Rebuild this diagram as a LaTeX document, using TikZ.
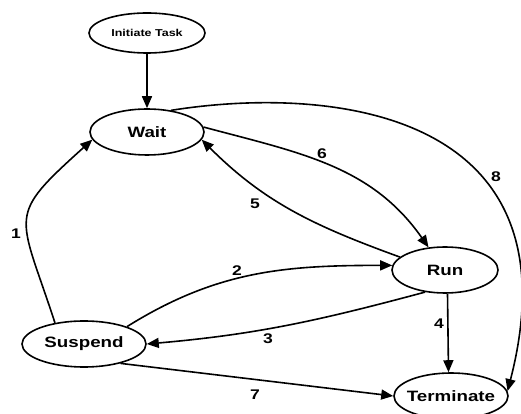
\documentclass[tikz,border=0pt]{standalone}
\usepackage{fontspec}
\setmainfont[FakeStretch=1.25]{Liberation Sans}
\usetikzlibrary{shapes.geometric,arrows.meta}
\begin{document}
\begin{tikzpicture}[x=1pt,y=1pt,line width=1.6pt,
	st/.style={draw,ellipse,inner xsep=-12pt,inner ysep=0pt,minimum height=46,font=\fontsize{15}{18}\selectfont\bfseries},
	arr/.style={-{Triangle[length=12pt,width=10pt]}}]
	\useasboundingbox (0,0) rectangle (521,414);
	\path
	(147,381) node[st,minimum width=116,minimum height=40,font=\fontsize{10}{12}\selectfont\bfseries] (Init) {Initiate Task}
	(147,282) node[st,minimum width=114] (Wait) {Wait}
	(84,70) node[st,minimum width=124] (Suspend) {Suspend}
	(445,144) node[st,minimum width=106] (Run) {Run}
	(451,18) node[st,minimum width=114] (Terminate) {Terminate}
	;
	\draw[arr] (Init) -- (Wait)
	;
	\draw[arr] (Suspend.144) to[out=108,in=222,looseness=1.6] (Wait.188)
	;
	\draw[arr] (Suspend.22) to[out=32,in=180] (Run.175)
	;
	\draw[arr] (Run.228) to[out=195,in=5] (Suspend.0)
	;
	\draw[arr] (Run.-84) -- (Terminate.96)
	;
	\draw[arr] (Run.164) to[out=160,in=-45] (Wait.-8)
	;
	\draw[arr] (Wait.5) to[out=-15,in=125] (Run.126)
	;
	\draw[arr] (Suspend.-28) -- (Terminate.180)
	;
	\draw[arr] (Wait.42) .. controls (330,329) and (580,304) .. (Terminate.5)
	;
	\foreach \n/\x/\y in {1/16/180, 2/237/143, 3/268/75, 4/439/90, 5/255/210, 6/322/260, 7/255/19, 8/496/237}
	\path (\x,\y) node[font=\fontsize{14}{16}\selectfont\bfseries] (lab\n) {\n}
	;
\end{tikzpicture}
\end{document}
